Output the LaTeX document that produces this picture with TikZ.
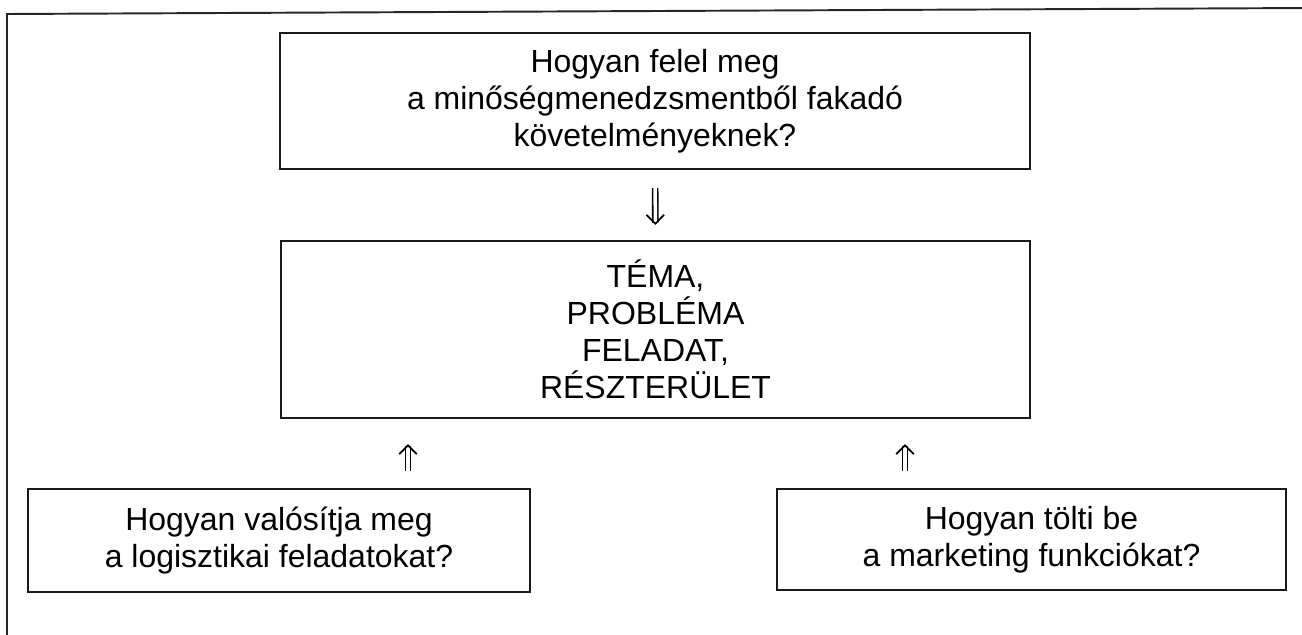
\documentclass[tikz,border=0pt]{standalone}
\usepackage{fontspec}
\setmainfont{Liberation Sans}
\usetikzlibrary{positioning, arrows.meta}

\begin{document}
\begin{tikzpicture}[
    x=0.02cm, y=-0.02cm,
    box/.style={rectangle, draw=black!90, line width=1.3pt, align=center,
                font=\fontsize{18.2}{21}\selectfont, text=black, inner sep=0pt},
    frame_line/.style={draw=black!85, line width=1.1pt},
    dbl_arrow/.style={double=white, double distance=2pt, line width=0.9pt,
                      -{Straight Barb[length=5pt, width=10pt, line width=1pt]}}
]

  % --- Page size and outer frame ---
  \useasboundingbox (0,0) rectangle (1302,635);
  \draw[frame_line] (7,640) -- (7,14) -- (1310,8);

  % --- Boxes ---
  \node[box, minimum width=15cm, minimum height=2.72cm] (kov) at (655,101)
    {Hogyan felel meg\\a minőségmenedzsmentből fakadó\\követelményeknek?};
  \node[box, minimum width=14.98cm, minimum height=3.54cm] (tema) at (655.5,329.5)
    {TÉMA,\\PROBLÉMA\\FELADAT,\\RÉSZTERÜLET};
  \node[box, minimum width=10.04cm, minimum height=2.06cm] (logi) at (279,540.5)
    {Hogyan valósítja meg\\a logisztikai feladatokat?};
  \node[box, minimum width=10.18cm, minimum height=2.02cm] (mark) at (1031.5,539.5)
    {Hogyan tölti be\\a marketing funkciókat?};

  % --- Arrows ---
  \coordinate (la) at (408,0);
  \coordinate (ra) at (905,0);
  \draw[dbl_arrow, shorten <=0.36cm, shorten >=0.3cm] (kov.south) -- (tema.north);
  \draw[dbl_arrow, shorten <=0.34cm, shorten >=0.5cm] (logi.north -| la) -- (tema.south -| la);
  \draw[dbl_arrow, shorten <=0.34cm, shorten >=0.5cm] (mark.north -| ra) -- (tema.south -| ra);

\end{tikzpicture}
\end{document}
